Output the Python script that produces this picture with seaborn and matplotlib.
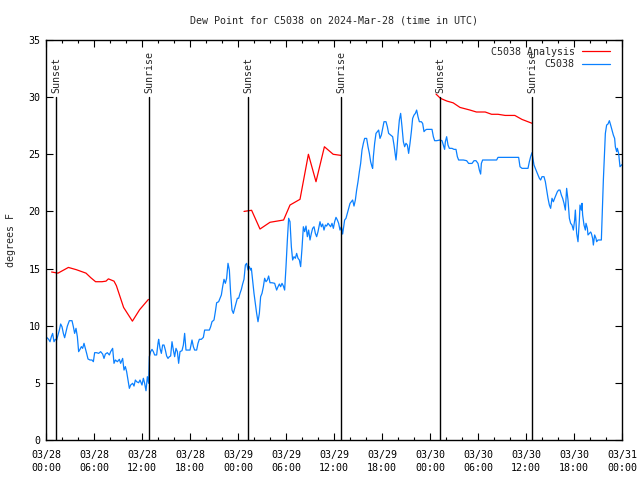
import pandas as pd
import numpy as np
import matplotlib
matplotlib.use('Agg')
import matplotlib.pyplot as plt
import matplotlib.dates as mdates
from matplotlib.lines import Line2D
import seaborn as sns

start = pd.Timestamp('2024-03-28 00:00')

# analysis (hours after start, deg F), three separate pieces
red_hours_1 = [0.7, 1.5, 2.8, 3.8, 4.6, 5.0, 5.6, 6.2, 7.0, 7.5, 7.8, 8.5, 8.8, 9.7, 10.8, 11.7, 12.8]
red_dew_1 = [14.7, 14.6, 15.1, 14.9, 14.7, 14.6, 14.2, 13.85, 13.85, 13.9, 14.1, 13.9, 13.5, 11.6, 10.4, 11.4, 12.3]
red_hours_2 = [24.75, 25.7, 26.75, 28.0, 29.7, 30.5, 31.75, 32.8, 33.75, 34.8, 35.9, 36.9]
red_dew_2 = [20.0, 20.1, 18.46, 19.05, 19.25, 20.56, 21.06, 25.0, 22.6, 25.66, 25.0, 24.9]
red_hours_3 = [48.75, 49.3, 50.1, 50.9, 51.75, 53.0, 53.8, 54.9, 55.7, 56.5, 57.4, 58.6, 59.5, 60.8]
red_dew_3 = [30.27, 29.9, 29.66, 29.5, 29.1, 28.87, 28.7, 28.7, 28.5, 28.5, 28.4, 28.4, 28.05, 27.7]

# station observations
blue_hours = [
    0.08, 0.33, 0.5, 0.67, 0.83, 1.0, 1.17, 1.33, 1.5, 1.67, 1.83, 2.0, 2.17, 2.33, 2.5, 2.67, 2.92, 3.25,
    3.42, 3.58, 3.75, 3.92, 4.08, 4.25, 4.42, 4.58, 4.75, 4.92, 5.08, 5.25, 5.5, 5.75, 5.92, 6.08, 6.33,
    6.58, 6.83, 7.08, 7.25, 7.42, 7.67, 7.92, 8.08, 8.33, 8.5, 8.67, 8.92, 9.17, 9.33, 9.58, 9.75, 9.92,
    10.08, 10.25, 10.42, 10.58, 10.83, 11.0, 11.17, 11.33, 11.58, 11.75, 12.0, 12.17, 12.33, 12.5, 12.67,
    12.83,
    12.92, 13.08, 13.25, 13.42, 13.58, 13.83, 14.0, 14.08, 14.25, 14.42, 14.58, 14.75, 14.92, 15.08, 15.25,
    15.42, 15.58, 15.75, 15.92, 16.08, 16.25, 16.42, 16.58, 16.75, 17.0, 17.17, 17.33, 17.5, 17.75, 18.0,
    18.25, 18.42, 18.58, 18.83, 19.0, 19.17, 19.42, 19.67, 19.83, 20.08, 20.42, 20.58, 20.75, 21.0, 21.17,
    21.33, 21.58, 21.75, 21.92, 22.08, 22.25, 22.42, 22.58, 22.75, 22.92, 23.08, 23.25, 23.42, 23.58, 23.75,
    23.92, 24.08, 24.25, 24.42, 24.58, 24.75, 24.92, 25.08, 25.25, 25.42, 25.58,
    25.67, 25.83, 26.0, 26.17, 26.33, 26.5, 26.67, 26.83, 27.0, 27.17, 27.33, 27.5, 27.67, 27.83, 28.0,
    28.25, 28.58, 28.83, 29.0, 29.17, 29.33, 29.5, 29.67, 29.83, 30.0, 30.17, 30.33, 30.5, 30.67, 30.83,
    31.0, 31.17, 31.33, 31.5, 31.67, 31.83, 32.0, 32.17, 32.33, 32.5, 32.67, 32.83, 33.0, 33.17, 33.33,
    33.5, 33.67, 33.83, 34.0, 34.25, 34.42, 34.58, 34.75, 34.92, 35.08, 35.25, 35.42, 35.58, 35.75, 35.92,
    36.08, 36.25, 36.42, 36.58, 36.75, 36.92, 37.08,
    37.33, 37.5, 37.67, 37.83, 38.0, 38.17, 38.33, 38.5, 38.67, 38.83, 39.0, 39.17, 39.33, 39.5, 39.67,
    39.83, 40.08, 40.25, 40.42, 40.58, 40.75, 40.83, 40.92, 41.08, 41.25, 41.42, 41.58, 41.75, 41.92, 42.08,
    42.25, 42.5, 42.67, 42.83, 43.08, 43.33, 43.5, 43.67, 43.75, 43.83, 44.0, 44.17, 44.33, 44.5, 44.67,
    44.83, 45.0, 45.17, 45.33, 45.5, 45.67, 45.83, 46.0, 46.17, 46.33, 46.5, 46.67, 46.92, 47.08, 47.25,
    47.42, 47.58, 47.92,
    48.0, 48.25, 48.42, 48.58, 48.83, 49.25, 49.5, 49.67, 49.83, 49.92, 50.08, 50.25, 50.42, 50.75, 51.0,
    51.25, 51.42, 51.58, 52.17, 52.58, 52.83, 53.25, 53.5, 53.75, 54.0, 54.17, 54.33, 54.42, 54.58, 55.08,
    56.33, 56.5, 59.08, 59.25, 59.5, 59.83,
    60.0, 60.25, 60.42, 60.58, 60.75, 60.83, 61.0, 61.17, 61.33, 61.5, 61.67, 61.83, 62.0, 62.25, 62.42,
    62.58, 62.75, 62.92, 63.08, 63.25, 63.42, 63.58, 63.75, 63.92, 64.08, 64.25, 64.42, 64.58, 64.75, 64.92,
    65.0, 65.08, 65.25, 65.42, 65.58, 65.75, 65.92, 66.08, 66.17, 66.33, 66.5, 66.67, 66.75, 66.92, 67.0,
    67.08, 67.25, 67.42, 67.5, 67.67, 67.75, 67.92, 68.08, 68.17, 68.33, 68.42, 68.58, 68.75, 68.83, 69.0,
    69.42, 69.5, 69.67, 69.83, 69.92, 70.08, 70.25, 70.42, 70.58, 70.75, 70.92, 71.08, 71.17, 71.33, 71.42,
    71.58, 71.75, 72.0]
blue_dew = [
    8.98, 8.81, 8.6, 9.04, 9.33, 8.6, 8.81, 8.75, 9.19, 9.62, 10.15, 9.91, 9.33, 8.95, 9.48, 9.97, 10.44, 10.44,
    9.91, 9.33, 9.77, 9.04, 7.73, 7.93, 8.17, 8.02, 8.46, 8.02, 7.58, 7.09, 7.0, 7.0, 6.85, 7.64, 7.64,
    7.58, 7.73, 7.52, 7.14, 7.52, 7.64, 7.44, 7.73, 8.02, 6.71, 7.0, 6.85, 7.06, 6.71, 7.14, 6.12, 6.42,
    5.98, 5.25, 4.52, 4.81, 4.96, 4.72, 5.25, 5.1, 5.01, 5.25, 4.81, 5.4, 4.96, 4.31, 5.54,
    4.96,
    7.29, 7.73, 7.93, 7.73, 7.44, 7.44, 8.46, 8.81, 8.02, 7.58, 8.31, 8.31, 7.87, 7.35, 7.14,
    7.29, 7.35, 8.6, 7.87, 7.29, 8.02, 7.73, 6.71, 7.73, 7.82, 8.31, 9.33, 7.87, 7.87, 7.87,
    8.75, 8.17, 7.87, 7.87, 8.46, 8.81, 8.81, 8.98, 9.62, 9.62, 9.62, 9.91, 10.35, 10.5, 11.23,
    12.01, 12.1, 12.4, 12.69, 13.41, 14.06, 13.71, 14.15, 15.46, 14.87, 12.83, 11.37, 11.08, 11.52, 11.96,
    12.4, 12.4, 12.83, 13.18, 13.65, 14.06, 15.31, 15.46, 14.87, 15.17, 14.87,
    15.02, 14.0, 12.83, 11.96, 11.08, 10.35, 11.08, 12.54, 12.83, 13.41, 14.15, 13.85, 14.0, 14.35, 13.76,
    13.76, 13.71, 13.12, 13.41, 13.65, 13.41, 13.71, 13.47, 13.12, 15.17, 17.5, 19.4, 19.1, 16.9, 15.75,
    16.04, 15.9, 16.33, 15.9, 15.75, 15.17, 16.77, 18.66, 18.23, 18.72, 17.79, 18.37, 17.5, 18.08, 18.52,
    18.66, 18.08, 17.79, 18.23, 19.1, 18.66, 18.9, 18.37, 18.81, 18.72, 18.96, 18.81, 18.66, 18.96, 18.52,
    19.1, 19.48, 19.25, 18.96, 18.37, 18.66, 18.02,
    19.25, 19.4, 19.83, 20.27, 20.7, 20.85, 21.0, 20.47, 21.0, 21.87, 22.6, 23.48, 24.2, 25.37, 25.96,
    26.39, 26.39, 25.66, 25.08, 24.35, 23.91, 23.77, 24.79, 25.96, 26.83, 26.98, 27.12, 26.39, 26.68, 27.27,
    27.85, 27.85, 27.41, 26.83, 26.68, 26.54, 25.81, 24.93, 24.5, 25.08, 26.68, 28.0, 28.58, 27.41, 26.1,
    25.66, 25.96, 25.81, 25.08, 25.96, 26.98, 28.14, 28.43, 28.58, 28.87, 28.29, 27.85, 27.85, 27.7, 26.98,
    27.12, 27.18, 27.18,
    27.18, 27.18, 26.54, 26.19, 26.19, 26.25, 26.19, 25.81, 25.43, 26.1, 26.54, 25.81, 25.52, 25.52, 25.43,
    25.43, 24.79, 24.5, 24.5, 24.44, 24.2, 24.2, 24.44, 24.44, 24.2, 23.62, 23.27, 24.2, 24.5, 24.5,
    24.5, 24.73, 24.73, 23.91, 23.77, 23.77,
    23.77, 23.77, 24.35, 24.79, 25.14, 24.79, 24.06, 23.77, 23.48, 23.18, 22.9, 22.75, 23.04, 23.04, 22.6,
    21.87, 21.15, 20.56, 20.27, 21.15, 20.85, 21.15, 21.43, 21.73, 21.87, 21.87, 21.43, 21.15, 20.71, 20.12,
    21.0, 22.02, 21.0, 19.4, 18.96, 18.81, 18.37, 19.25, 20.12, 18.08, 17.35, 19.25, 20.56, 20.12, 20.71,
    19.69, 18.81, 18.37, 18.96, 18.52, 17.94, 18.08, 18.2, 18.08, 17.64, 17.06, 17.94, 17.64, 17.35, 17.5,
    17.5, 19.25, 22.75, 25.37, 26.83, 27.56, 27.65, 27.94, 27.56, 27.12, 26.68, 26.39, 25.66, 25.23, 25.52,
    25.08, 23.91, 24.1]

sun_times = ['2024-03-28 01:15', '2024-03-28 12:53', '2024-03-29 01:15',
             '2024-03-29 12:53', '2024-03-30 01:15', '2024-03-30 12:45']
sun_labels = ['Sunset', 'Sunrise', 'Sunset', 'Sunrise', 'Sunset', 'Sunrise']

red_parts = []
for i, (hh, vv) in enumerate([(red_hours_1, red_dew_1), (red_hours_2, red_dew_2), (red_hours_3, red_dew_3)]):
    red_parts.append(pd.DataFrame({'time': start + pd.to_timedelta(hh, unit='h'), 'dew': vv, 'part': i}))
red_df = pd.concat(red_parts, ignore_index=True)
blue_df = pd.DataFrame({'time': start + pd.to_timedelta(blue_hours, unit='h'), 'dew': blue_dew})

sns.set_style('ticks')
plt.rcParams['font.family'] = ['DejaVu Sans Mono']
plt.rcParams['font.size'] = 7.2

red_col = '#ff0000'
blue_col = '#0a80ff'

fig = plt.figure(figsize=(6.4, 4.8), dpi=100)
ax = fig.add_axes([46 / 640, 40 / 480, 576 / 640, 400 / 480])

sns.lineplot(data=red_df, x='time', y='dew', units='part', estimator=None,
             color=red_col, lw=0.9, ax=ax)
sns.lineplot(data=blue_df, x='time', y='dew', color=blue_col, lw=0.9, ax=ax)

for t, lab in zip(sun_times, sun_labels):
    ts = pd.Timestamp(t)
    ax.plot([ts, ts], [0, 30], color='black', lw=1.0)
    ax.text(ts, 30.4, lab, rotation=90, ha='center', va='bottom', fontsize=7.2)

ax.set_xlim(start, pd.Timestamp('2024-03-31 00:00'))
ax.set_ylim(0, 35)
ax.set_yticks(range(0, 36, 5))
ax.xaxis.set_major_locator(mdates.HourLocator(byhour=[0, 6, 12, 18]))
ax.xaxis.set_minor_locator(mdates.HourLocator(byhour=range(0, 24, 2)))
ax.xaxis.set_major_formatter(mdates.DateFormatter('%m/%d\n%H:%M'))
ax.tick_params(which='both', direction='in', top=True, right=True, colors='black')
ax.tick_params(which='major', length=5, width=0.8, pad=7)
ax.tick_params(which='minor', length=2.5, width=0.8)
ax.tick_params(axis='y', pad=4)
for lbl in ax.get_xticklabels():
    lbl.set_linespacing(1.45)
for s in ax.spines.values():
    s.set_linewidth(1.0)
    s.set_color('black')

ax.set_xlabel('')
ax.set_ylabel('degrees F', labelpad=9)
ax.set_title('Dew Point for C5038 on 2024-Mar-28 (time in UTC)', pad=12, fontsize=7.2)

handles = [Line2D([], [], color=red_col, lw=0.9), Line2D([], [], color=blue_col, lw=0.9)]
leg = ax.legend(handles, ['C5038 Analysis', 'C5038'], loc='upper right',
                bbox_to_anchor=(0.991, 1.0), frameon=False,
                markerfirst=False, handlelength=2.8, handletextpad=0.7, labelspacing=0.25,
                borderaxespad=0.3, fontsize=7.2)
for col in leg._legend_handle_box.get_children():
    col.align = 'right'

fig.savefig('out.png', dpi=100)
